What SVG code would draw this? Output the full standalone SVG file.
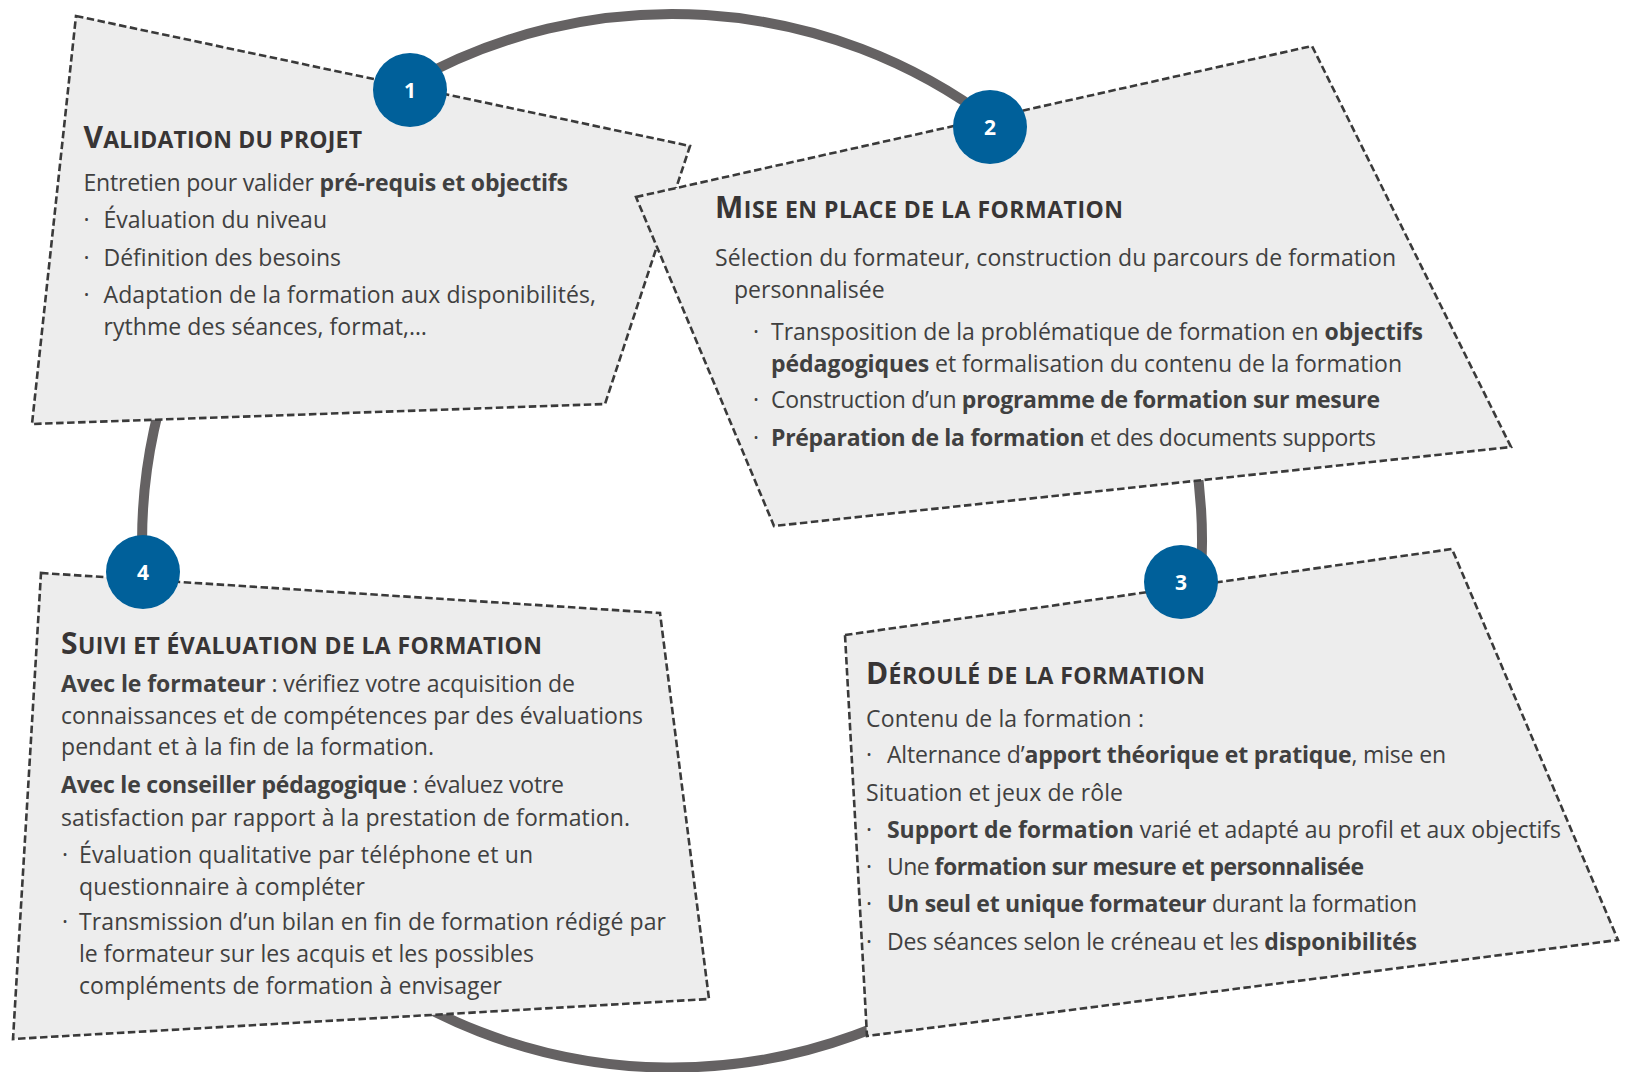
<svg xmlns="http://www.w3.org/2000/svg" width="1625" height="1072" viewBox="0 0 1625 1072">
<style>
.box{fill:#ededed;stroke:#3a3a3a;stroke-width:2.6;stroke-dasharray:7.5 3.5}
.conn{fill:none;stroke:#656263;stroke-width:10}
.dot{fill:#00609a}
.num{font-family:"Open Sans","Noto Sans",sans-serif;font-weight:700;font-size:21px;fill:#fff;text-anchor:middle}
.h{font-family:"Open Sans","Noto Sans",sans-serif;font-weight:700;font-size:23px;fill:#383535}
.cap{font-size:30px}
.t{font-family:"Open Sans","Noto Sans",sans-serif;font-size:23px;fill:#404040}
.b{font-weight:700}
</style>
<rect width="1625" height="1072" fill="#fff"/>
<g id="connectors">
<path class="conn" d="M 406.9 84.7 A 530 527 0 0 1 993.7 122.2"/>
<path class="conn" d="M 993.7 122.2 A 530 527 0 0 1 1200.3 583.5"/>
<path class="conn" d="M 1200.3 583.5 A 530 527 0 0 1 143 572"/>
<path class="conn" d="M 143 572 A 530 527 0 0 1 406.9 84.7"/>
</g>
<g id="node1">
<polygon class="box" points="76,16 690,146 605,404 32,424"/>
<text class="h" x="83.5" y="148" textLength="278.5" lengthAdjust="spacing"><tspan class="cap">V</tspan>ALIDATION DU PROJET</text>
<text class="t" x="83.5" y="191" textLength="484.5" lengthAdjust="spacing">Entretien pour valider <tspan class="b">pré-requis et objectifs</tspan></text>
<text class="t" x="83.5" y="228">·</text>
<text class="t" x="103.5" y="228" textLength="223.5" lengthAdjust="spacing">Évaluation du niveau</text>
<text class="t" x="83.5" y="266">·</text>
<text class="t" x="103.5" y="266" textLength="237.5" lengthAdjust="spacing">Définition des besoins</text>
<text class="t" x="83.5" y="303">·</text>
<text class="t" x="103.5" y="303" textLength="492.5" lengthAdjust="spacing">Adaptation de la formation aux disponibilités,</text>
<text class="t" x="103.5" y="335" textLength="323.5" lengthAdjust="spacing">rythme des séances, format,…</text>
<circle class="dot" cx="410" cy="90" r="37"/>
<text class="num" x="410" y="97.5">1</text>
</g>
<g id="node2">
<polygon class="box" points="636,197 1312,46 1511,447 774,526"/>
<text class="h" x="715" y="218" textLength="408" lengthAdjust="spacing"><tspan class="cap">M</tspan>ISE EN PLACE DE LA FORMATION</text>
<text class="t" x="715" y="266" textLength="681" lengthAdjust="spacing">Sélection du formateur, construction du parcours de formation</text>
<text class="t" x="734" y="298">personnalisée</text>
<text class="t" x="753" y="340">·</text>
<text class="t" x="771" y="340" textLength="652" lengthAdjust="spacing">Transposition de la problématique de formation en <tspan class="b">objectifs</tspan></text>
<text class="t" x="771" y="372" textLength="631" lengthAdjust="spacing"><tspan class="b">pédagogiques</tspan> et formalisation du contenu de la formation</text>
<text class="t" x="753" y="408">·</text>
<text class="t" x="771" y="408" textLength="609" lengthAdjust="spacing">Construction d’un <tspan class="b">programme de formation sur mesure</tspan></text>
<text class="t" x="753" y="446">·</text>
<text class="t" x="771" y="446" textLength="605" lengthAdjust="spacing"><tspan class="b">Préparation de la formation</tspan> et des documents supports</text>
<circle class="dot" cx="990" cy="127" r="37"/>
<text class="num" x="990" y="134.5">2</text>
</g>
<g id="node3">
<polygon class="box" points="845,635 1452,549 1618,940 867,1036"/>
<text class="h" x="866" y="684" textLength="339" lengthAdjust="spacing"><tspan class="cap">D</tspan>ÉROULÉ DE LA FORMATION</text>
<text class="t" x="866" y="727" textLength="278" lengthAdjust="spacing">Contenu de la formation :</text>
<text class="t" x="866" y="763">·</text>
<text class="t" x="887" y="763" textLength="559" lengthAdjust="spacing">Alternance d’<tspan class="b">apport théorique et pratique</tspan>, mise en</text>
<text class="t" x="866" y="801" textLength="257" lengthAdjust="spacing">Situation et jeux de rôle</text>
<text class="t" x="866" y="838">·</text>
<text class="t" x="887" y="838" textLength="674" lengthAdjust="spacing"><tspan class="b">Support de formation</tspan> varié et adapté au profil et aux objectifs</text>
<text class="t" x="866" y="875">·</text>
<text class="t" x="887" y="875" textLength="477" lengthAdjust="spacing">Une <tspan class="b">formation sur mesure et personnalisée</tspan></text>
<text class="t" x="866" y="912">·</text>
<text class="t" x="887" y="912" textLength="530" lengthAdjust="spacing"><tspan class="b">Un seul et unique formateur</tspan> durant la formation</text>
<text class="t" x="866" y="950">·</text>
<text class="t" x="887" y="950" textLength="530" lengthAdjust="spacing">Des séances selon le créneau et les <tspan class="b">disponibilités</tspan></text>
<circle class="dot" cx="1181" cy="582" r="37"/>
<text class="num" x="1181" y="589.5">3</text>
</g>
<g id="node4">
<polygon class="box" points="41,573 660,613 709,999 13,1039"/>
<text class="h" x="61" y="654" textLength="481" lengthAdjust="spacing"><tspan class="cap">S</tspan>UIVI ET ÉVALUATION DE LA FORMATION</text>
<text class="t" x="61" y="692" textLength="514" lengthAdjust="spacing"><tspan class="b">Avec le formateur</tspan> : vérifiez votre acquisition de</text>
<text class="t" x="61" y="724" textLength="582" lengthAdjust="spacing">connaissances et de compétences par des évaluations</text>
<text class="t" x="61" y="755" textLength="373" lengthAdjust="spacing">pendant et à la fin de la formation.</text>
<text class="t" x="61" y="793" textLength="503" lengthAdjust="spacing"><tspan class="b">Avec le conseiller pédagogique</tspan> : évaluez votre</text>
<text class="t" x="61" y="826" textLength="569" lengthAdjust="spacing">satisfaction par rapport à la prestation de formation.</text>
<text class="t" x="62" y="863">·</text>
<text class="t" x="79" y="863" textLength="454" lengthAdjust="spacing">Évaluation qualitative par téléphone et un</text>
<text class="t" x="79" y="895" textLength="286" lengthAdjust="spacing">questionnaire à compléter</text>
<text class="t" x="62" y="930">·</text>
<text class="t" x="79" y="930" textLength="587" lengthAdjust="spacing">Transmission d’un bilan en fin de formation rédigé par</text>
<text class="t" x="79" y="962" textLength="455" lengthAdjust="spacing">le formateur sur les acquis et les possibles</text>
<text class="t" x="79" y="994" textLength="423" lengthAdjust="spacing">compléments de formation à envisager</text>
<circle class="dot" cx="143" cy="572" r="37"/>
<text class="num" x="143" y="579.5">4</text>
</g>
</svg>
